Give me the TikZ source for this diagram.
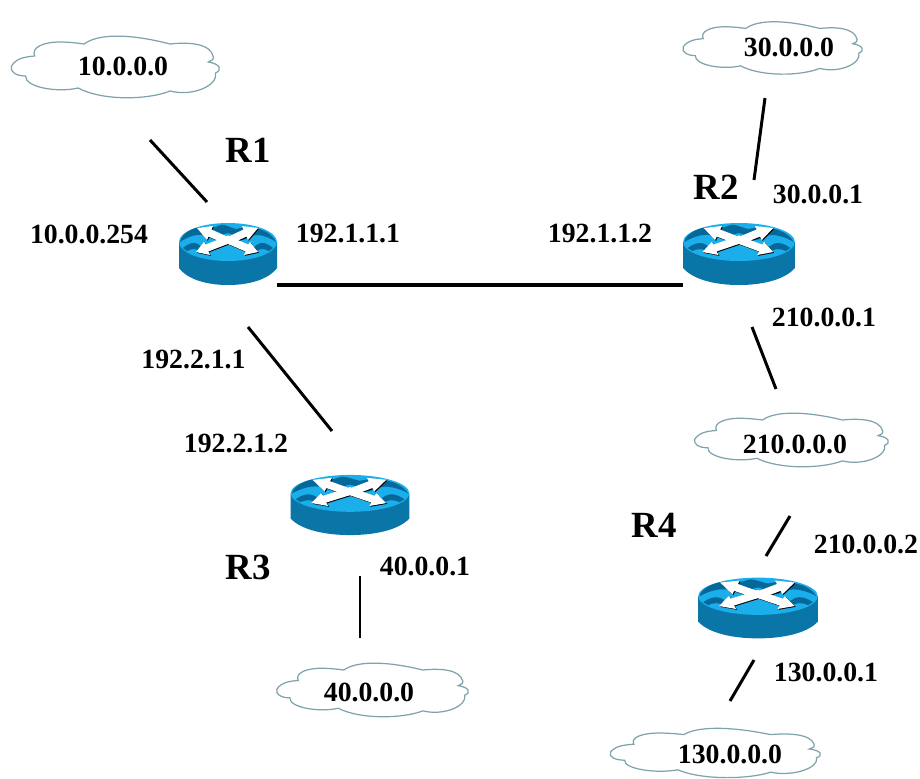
\documentclass[tikz,border=0pt]{standalone}
\usepackage{fontspec}
\setmainfont{Liberation Serif}
\definecolor{routerside}{HTML}{0A76A8}
\definecolor{routertop}{HTML}{1AAEEA}
\definecolor{routerdark}{HTML}{06689A}
\definecolor{cloudline}{HTML}{7FA3AC}
\tikzset{
  cloudicon/.pic={
    \draw[cloudline, fill=white, line width=0.7pt] (-105,-1) .. controls (-100,-9) and (-92,-10) .. (-82,-11)
      .. controls (-86,-20) and (-72,-25) .. (-58,-25)
      .. controls (-48,-25) and (-40,-24) .. (-33,-23)
      .. controls (-20,-33) and (10,-34) .. (52,-23)
      .. controls (70,-25) and (92,-24) .. (95,-10)
      .. controls (96,-8) and (94,-7) .. (90,-5)
      .. controls (102,-3) and (104,3) .. (97,6)
      .. controls (100,18) and (75,30) .. (52,24)
      .. controls (30,33) and (-15,34) .. (-39,21)
      .. controls (-60,26) and (-92,20) .. (-91,9)
      .. controls (-100,9) and (-107,5) .. (-105,-1) -- cycle;
  },
  routericon/.pic={
    % body
    \fill[routerside] (-49,-12) -- (-49,14) .. controls (-40,26) and (-20,31) .. (0,31)
      .. controls (20,31) and (40,26) .. (49,14) -- (49,-12) -- cycle;
    \fill[routertop] (0,-12) ellipse [x radius=49, y radius=19];
    % waves
    \fill[routerdark] (-48,-12) .. controls (-47,-18) and (-40,-24) .. (-32,-26)
      .. controls (-25,-27) and (-20,-27) .. (-15,-26)
      .. controls (-10,-28) and (-6,-30) .. (-4,-29)
      .. controls (0,-28) and (4,-26) .. (8,-25)
      .. controls (16,-27) and (20,-27) .. (25,-26)
      .. controls (36,-25) and (44,-20) .. (48,-12)
      .. controls (44,-15) and (36,-19) .. (29,-19)
      .. controls (24,-19) and (20,-15) .. (15,-14)
      .. controls (8,-15) and (4,-21) .. (0,-21)
      .. controls (-5,-21) and (-8,-15) .. (-12,-15)
      .. controls (-18,-15) and (-21,-19) .. (-26,-19)
      .. controls (-34,-20) and (-42,-16) .. (-48,-12) -- cycle;
    \fill[routerdark] (-45,-6) .. controls (-40,-10) and (-37,-11) .. (-34,-11)
      .. controls (-30,-11) and (-28,-8) .. (-26,-7)
      .. controls (-24,-5) and (-21,-4) .. (-18,-3)
      -- (-27,-2) .. controls (-30,-4) and (-32,-5) .. (-34,-5)
      .. controls (-37,-5) and (-39,-4) .. (-41,-3) -- cycle;
    \fill[routerdark] (45,-6) .. controls (40,-10) and (37,-11) .. (34,-11)
      .. controls (30,-11) and (28,-8) .. (26,-7)
      .. controls (24,-5) and (21,-4) .. (18,-3)
      -- (27,-2) .. controls (30,-4) and (32,-5) .. (34,-5)
      .. controls (37,-5) and (39,-4) .. (41,-3) -- cycle;
    % arrows, black under white
    \foreach \tone/\off in {black/0.8,white/0} {
      \fill[\tone,shift={(\off,\off)}] (-31,-26) -- (-15,-28) -- (-16.5,-24.5) -- (1.5,-16.5) -- (-1.5,-9.5) -- (-19.5,-17.5) -- (-21,-14) -- cycle;
      \fill[\tone,shift={(\off,\off)}] (30,-26) -- (14,-28) -- (15.5,-24.5) -- (-1.5,-16.5) -- (1.5,-9.5) -- (18.5,-17.5) -- (20,-14) -- cycle;
      \fill[\tone,shift={(\off,\off)}] (-32,-2) -- (-18,1) -- (-19.7,-2.5) -- (3.5,-11.5) -- (0.5,-18.5) -- (-22.3,-9.5) -- (-24,-12) -- cycle;
      \fill[\tone,shift={(\off,\off)}] (30,-2) -- (16,1) -- (17.7,-2.5) -- (-3.5,-11.5) -- (-0.5,-18.5) -- (20.3,-9.5) -- (22,-12) -- cycle;
    }
  }
}
\begin{document}
\begin{tikzpicture}[x=0.02cm,y=-0.02cm,
  address/.style={font=\fontsize{15.8}{18}\selectfont\bfseries,inner sep=0pt},
  routername/.style={font=\fontsize{21}{24}\selectfont\bfseries,inner sep=0pt},
  routerbox/.style={inner sep=0pt,outer sep=0pt,minimum width=#1*0.02cm,minimum height=1.24cm},
  link/.style={line width=1.7pt}]
\useasboundingbox (0,0) rectangle (920,778);

% clouds
\pic[xscale=1.01] at (117.5,67) {cloudicon};
\pic[xscale=0.87,yscale=0.85] at (774.5,48) {cloudicon};
\pic[xscale=0.94,yscale=0.87] at (793.5,440) {cloudicon};
\pic[xscale=0.93,yscale=0.87] at (374.5,690) {cloudicon};
\pic[xscale=1.02,yscale=0.8] at (717.5,753) {cloudicon};

\node[address] (net1) at (123,66) {10.0.0.0};
\node[address] (net2) at (789,47) {30.0.0.0};
\node[address] (net3) at (795,444) {210.0.0.0};
\node[address] (net4) at (369,692) {40.0.0.0};
\node[address] (net5) at (730,754) {130.0.0.0};

% routers
\node[routerbox=98] (r1) at (228,254) {};
\node[routerbox=112] (r2) at (739,254) {};
\node[routerbox=119] (r3) at (350,505) {};
\node[routerbox=120] (r4) at (758,608) {};
\pic at (r1) {routericon};
\pic[xscale=1.14] at (r2) {routericon};
\pic[xscale=1.21,yscale=0.97] at (r3) {routericon};
\pic[xscale=1.22,yscale=0.98] at (r4) {routericon};

\node[routername] (n1) at (248,150) {R1};
\node[routername] (n2) at (716.5,187) {R2};
\node[routername] (n3) at (248,567) {R3};
\node[routername] (n4) at (654,525) {R4};

% addresses
\node[address] (a1) at (89,234) {10.0.0.254};
\node[address] (a2) at (348,234) {192.1.1.1};
\node[address] (a3) at (600,234) {192.1.1.2};
\node[address] (a4) at (818,194) {30.0.0.1};
\node[address] (a5) at (824,317) {210.0.0.1};
\node[address] (a6) at (193.5,360) {192.2.1.1};
\node[address] (a7) at (236,443) {192.2.1.2};
\node[address] (a8) at (425,566) {40.0.0.1};
\node[address] (a9) at (866,544) {210.0.0.2};
\node[address] (a10) at (826,672) {130.0.0.1};

% links
\coordinate (l1a) at (150,140);
\coordinate (l1b) at (207,202);
\coordinate (l2a) at (765,98);
\coordinate (l2b) at (754,180);
\coordinate (l3a) at (248,327);
\coordinate (l3b) at (332,431);
\coordinate (l4a) at (360,576);
\coordinate (l4b) at (360,638);
\coordinate (l5a) at (752,327);
\coordinate (l5b) at (776,389);
\coordinate (l6a) at (790,516);
\coordinate (l6b) at (766,556);
\coordinate (l7a) at (754,660);
\coordinate (l7b) at (730,701);

\draw[link, line width=2pt] (r1.south east) to (r2.south west);
\draw[link] (l1a) to (l1b);
\draw[link] (l2a) to (l2b);
\draw[link] (l3a) to (l3b);
\draw[link] (l4a) to (l4b);
\draw[link] (l5a) to (l5b);
\draw[link] (l6a) to (l6b);
\draw[link] (l7a) to (l7b);
\end{tikzpicture}
\end{document}
